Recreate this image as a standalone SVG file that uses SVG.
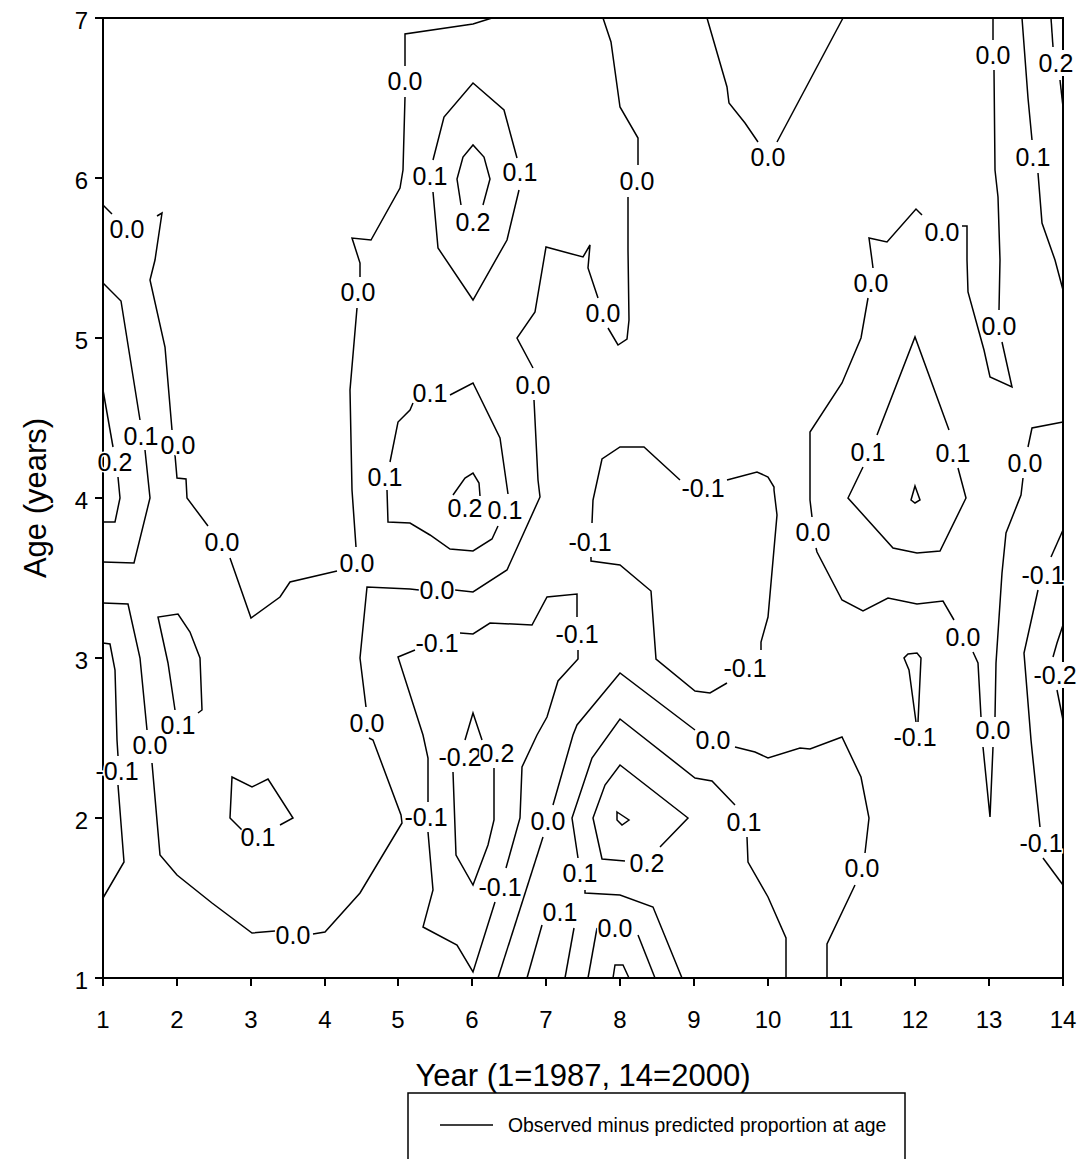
<svg xmlns="http://www.w3.org/2000/svg" width="1083" height="1159" viewBox="0 0 1083 1159">
<style>
.c{fill:none;stroke:#000;stroke-width:1.5;stroke-linejoin:miter}
.f{fill:none;stroke:#000;stroke-width:2}
.lb{font-family:"Liberation Sans",Arial,sans-serif;font-size:25px;text-anchor:middle;dominant-baseline:central;fill:#000;paint-order:stroke;stroke:#fff;stroke-width:3px}
.tk{font-family:"Liberation Sans",Arial,sans-serif;font-size:24px;fill:#000}
.ti{font-family:"Liberation Sans",Arial,sans-serif;font-size:31px;fill:#000;text-anchor:middle}
.lg{font-family:"Liberation Sans",Arial,sans-serif;font-size:19.4px;fill:#000}
</style>
<rect width="1083" height="1159" fill="#fff"/>
<g id="axes">
<rect class="f" x="103" y="18" width="960" height="960"/>
<path class="f" d="M95 18H103M95 178H103M95 338H103M95 498H103M95 658H103M95 818H103M95 978H103"/>
<path class="f" d="M103 978V986M177 978V986M251 978V986M325 978V986M398 978V986M472 978V986M546 978V986M620 978V986M694 978V986M768 978V986M841 978V986M915 978V986M989 978V986M1063 978V986"/>
<g class="tk" text-anchor="end" dominant-baseline="central">
<text x="88" y="20">7</text><text x="88" y="180">6</text><text x="88" y="340">5</text><text x="88" y="500">4</text><text x="88" y="660">3</text><text x="88" y="820">2</text><text x="88" y="980">1</text>
</g>
<g class="tk" text-anchor="middle">
<text x="103" y="1028">1</text><text x="177" y="1028">2</text><text x="251" y="1028">3</text><text x="325" y="1028">4</text><text x="398" y="1028">5</text><text x="472" y="1028">6</text><text x="546" y="1028">7</text><text x="620" y="1028">8</text><text x="694" y="1028">9</text><text x="768" y="1028">10</text><text x="841" y="1028">11</text><text x="915" y="1028">12</text><text x="989" y="1028">13</text><text x="1063" y="1028">14</text>
</g>
<text class="ti" x="583" y="1086">Year (1=1987, 14=2000)</text>
<text class="ti" transform="translate(46,498) rotate(-90)">Age (years)</text>
</g>
<g id="connectors">
<polyline class="c" points="103,205 112,214"/>
<polyline class="c" points="157,216 162,213 155,260 150,280 165,347 172,430"/>
<polyline class="c" points="175,455 177,478 186,479 187,498 208,526"/>
<polyline class="c" points="230,558 251,618 280,597 290,582 337,571"/>
<polyline class="c" points="356,547 352,490 350,390 357,308"/>
<polyline class="c" points="360,277 360,263 352,238 371,240 400,188 403,170 405,97"/>
<polyline class="c" points="405,66 405,34 473,24 492,18"/>
<polyline class="c" points="603,18 611,42 620,107 638,138 638,165"/>
<polyline class="c" points="628,197 628,250 629,320 627,339 618,345 608,328"/>
<polyline class="c" points="598,298 588,268 590,245 583,257 546,247 535,312 517,338 533,368"/>
<polyline class="c" points="534,400 538,480 540,497 507,570 473,592 455,590"/>
<polyline class="c" points="419,590 410,589 367,587 360,658 366,707"/>
<polyline class="c" points="369,738 373,740 401,815 402,823 360,893 325,932 313,934"/>
<polyline class="c" points="275,931 252,933 212,903 177,875 160,855 152,763"/>
<polyline class="c" points="147,730 140,658 128,604 103,603"/>
<polyline class="c" points="103,283 121,301 140,420"/>
<polyline class="c" points="145,450 150,498 134,563 103,562"/>
<polyline class="c" points="103,390 113,447"/>
<polyline class="c" points="118,477 120,498 115,522 103,522"/>
<polyline class="c" points="175,710 168,663 158,617 178,614 190,632 200,658 202,710 198,713"/>
<polyline class="c" points="103,643 110,644 115,670 117,740 118,756"/>
<polyline class="c" points="118,785 124,862 103,898"/>
<polyline class="c" points="242,830 230,818 232,777 252,787 268,779 293,818 280,825"/>
<polyline class="c" points="433,160 444,117 473,83 504,110 517,158"/>
<polyline class="c" points="519,190 507,240 473,300 438,248 433,192"/>
<polyline class="c" points="483,205 490,179 484,157 473,145 463,157 457,179 461,205"/>
<polyline class="c" points="450,395 473,383 500,438 508,494"/>
<polyline class="c" points="498,526 492,539 473,551 450,549 430,535 410,523 388,522 387,490"/>
<polyline class="c" points="390,462 398,422 410,410 413,403"/>
<polyline class="c" points="453,495 465,478 473,473 479,483 480,496"/>
<polyline class="c" points="707,18 727,87 729,103 745,123 758,142"/>
<polyline class="c" points="777,142 843,18"/>
<polyline class="c" points="993,18 993,40"/>
<polyline class="c" points="994,70 995,170 998,197 1000,260 999,310"/>
<polyline class="c" points="1002,342 1012,387 990,377 984,350 968,292 967,260 967,226 962,226"/>
<polyline class="c" points="922,215 916,209 887,242 869,238 872,260 873,268"/>
<polyline class="c" points="868,298 861,338 842,383 810,432 810,500 812,517"/>
<polyline class="c" points="816,548 817,552 842,600 863,611 888,598 917,604 943,601 954,620"/>
<polyline class="c" points="973,652 978,663 981,717"/>
<polyline class="c" points="983,747 990,817 993,747"/>
<polyline class="c" points="995,717 996,663 1002,573 1006,533 1021,495 1023,478"/>
<polyline class="c" points="1028,447 1032,428 1063,422"/>
<polyline class="c" points="1022,18 1028,98 1032,140"/>
<polyline class="c" points="1038,173 1042,223 1055,260 1063,290"/>
<polyline class="c" points="1051,18 1053,47"/>
<polyline class="c" points="1060,80 1063,107"/>
<polyline class="c" points="877,435 915,337 949,430"/>
<polyline class="c" points="863,467 848,498 893,548 917,553 940,551 966,498 958,468"/>
<path class="c" d="M915 486L920 500L915 503L911 500Z"/>
<polyline class="c" points="680,480 644,447 620,447 602,459 593,500 592,523"/>
<polyline class="c" points="591,557 591,561 620,565 651,591 656,659 695,691 710,693 727,683"/>
<polyline class="c" points="761,650 761,642 768,617 777,515 774,490 774,487 768,477 757,472 727,480"/>
<polyline class="c" points="415,650 398,657 423,735 428,758 428,802"/>
<polyline class="c" points="428,832 433,890 423,927 457,945 473,972 495,902"/>
<polyline class="c" points="506,868 520,818 522,767 537,735 547,717 558,681 578,659 578,650"/>
<polyline class="c" points="577,617 577,594 547,597 532,625 490,623 473,634 460,633"/>
<polyline class="c" points="465,740 473,713 482,740"/>
<polyline class="c" points="453,772 456,855 473,885 488,845 494,820 494,768"/>
<polyline class="c" points="498,978 543,837"/>
<polyline class="c" points="553,805 573,735 577,725 620,673 695,730"/>
<polyline class="c" points="735,747 755,752 768,758 800,748 810,749 842,737 861,777 869,818 865,853"/>
<polyline class="c" points="855,885 827,944 827,978"/>
<polyline class="c" points="682,978 653,907 620,895 585,893 585,890"/>
<polyline class="c" points="578,858 572,818 592,758 620,719 695,778 712,781 735,805"/>
<polyline class="c" points="747,837 748,862 768,897 786,938 786,978"/>
<polyline class="c" points="527,978 542,925"/>
<polyline class="c" points="574,928 565,978"/>
<polyline class="c" points="588,978 597,928"/>
<polyline class="c" points="638,935 655,978"/>
<polyline class="c" points="613,978 615,965 623,965 629,978"/>
<polyline class="c" points="660,847 688,818 620,765 605,785 593,818 602,859 625,861"/>
<path class="c" d="M617 812L629 820L622 825L617 820Z"/>
<polyline class="c" points="916,722 909,670 904,658 908,654 917,653 921,658 918,722"/>
<polyline class="c" points="1063,530 1051,557"/>
<polyline class="c" points="1038,590 1024,653 1031,740 1032,750 1040,827"/>
<polyline class="c" points="1043,858 1063,885"/>
<polyline class="c" points="1063,625 1057,643 1053,657"/>
<polyline class="c" points="1057,690 1063,720"/>
</g>
<g id="labels">
<text class="lb" x="127" y="229">0.0</text>
<text class="lb" x="178" y="445">0.0</text>
<text class="lb" x="141" y="436">0.1</text>
<text class="lb" x="115" y="462">0.2</text>
<text class="lb" x="222" y="542">0.0</text>
<text class="lb" x="357" y="563">0.0</text>
<text class="lb" x="358" y="292">0.0</text>
<text class="lb" x="405" y="81">0.0</text>
<text class="lb" x="637" y="181">0.0</text>
<text class="lb" x="603" y="313">0.0</text>
<text class="lb" x="533" y="385">0.0</text>
<text class="lb" x="437" y="590">0.0</text>
<text class="lb" x="367" y="723">0.0</text>
<text class="lb" x="293" y="935">0.0</text>
<text class="lb" x="150" y="745">0.0</text>
<text class="lb" x="178" y="725">0.1</text>
<text class="lb" x="117" y="771">-0.1</text>
<text class="lb" x="258" y="837">0.1</text>
<text class="lb" x="430" y="176">0.1</text>
<text class="lb" x="520" y="172">0.1</text>
<text class="lb" x="473" y="222">0.2</text>
<text class="lb" x="430" y="393">0.1</text>
<text class="lb" x="385" y="477">0.1</text>
<text class="lb" x="465" y="508">0.2</text>
<text class="lb" x="505" y="510">0.1</text>
<text class="lb" x="768" y="157">0.0</text>
<text class="lb" x="993" y="55">0.0</text>
<text class="lb" x="1033" y="157">0.1</text>
<rect x="1038" y="50" width="36" height="26" fill="#fff"/>
<text class="lb" x="1056" y="63">0.2</text>
<text class="lb" x="942" y="232">0.0</text>
<text class="lb" x="999" y="326">0.0</text>
<text class="lb" x="871" y="283">0.0</text>
<text class="lb" x="868" y="452">0.1</text>
<text class="lb" x="953" y="453">0.1</text>
<text class="lb" x="1025" y="463">0.0</text>
<text class="lb" x="813" y="532">0.0</text>
<text class="lb" x="963" y="637">0.0</text>
<text class="lb" x="993" y="730">0.0</text>
<text class="lb" x="1043" y="575">-0.1</text>
<rect x="1032" y="662" width="45" height="26" fill="#fff"/>
<text class="lb" x="1055" y="675">-0.2</text>
<text class="lb" x="1041" y="843">-0.1</text>
<text class="lb" x="703" y="488">-0.1</text>
<text class="lb" x="590" y="542">-0.1</text>
<text class="lb" x="745" y="668">-0.1</text>
<text class="lb" x="437" y="643">-0.1</text>
<text class="lb" x="577" y="634">-0.1</text>
<text class="lb" x="426" y="817">-0.1</text>
<text class="lb" x="500" y="887">-0.1</text>
<text class="lb" x="460" y="757">-0.2</text>
<text class="lb" x="497" y="753">0.2</text>
<text class="lb" x="548" y="821">0.0</text>
<text class="lb" x="713" y="740">0.0</text>
<text class="lb" x="862" y="868">0.0</text>
<text class="lb" x="580" y="873">0.1</text>
<text class="lb" x="744" y="822">0.1</text>
<text class="lb" x="560" y="912">0.1</text>
<text class="lb" x="615" y="928">0.0</text>
<text class="lb" x="647" y="863">0.2</text>
<text class="lb" x="915" y="737">-0.1</text>
</g>
<g id="legend">
<rect x="408" y="1093" width="497" height="80" fill="#fff" stroke="#000" stroke-width="1.5"/>
<line x1="440" y1="1125" x2="493" y2="1125" stroke="#000" stroke-width="1.5"/>
<text class="lg" x="508" y="1132">Observed minus predicted proportion at age</text>
</g>
</svg>
